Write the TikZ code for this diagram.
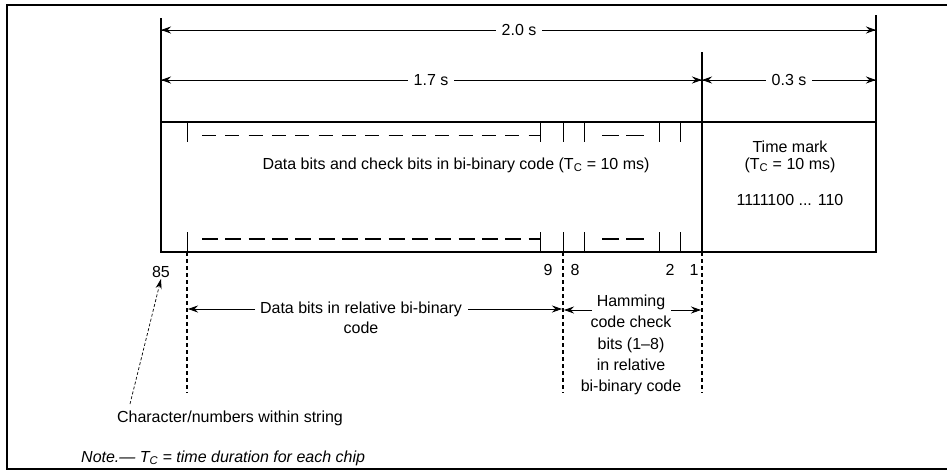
\documentclass[tikz,border=0pt]{standalone}
\usepackage{fontspec}
\setmainfont{Liberation Sans}
\usetikzlibrary{arrows.meta}
\begin{document}
\begin{tikzpicture}[x=1pt,y=-1pt,
  every node/.style={font=\fontsize{16}{20}\selectfont, inner sep=1pt},
  ln/.style={line width=1.1pt},
  dim/.style={line width=0.8pt,-{Stealth[length=10pt,width=7pt]}},
  lbl/.style={fill=white, inner xsep=6pt},
  tick/.style={line width=1pt},
  dashtop/.style={line width=1pt, dash pattern=on 14pt off 9.33pt},
  dashbot/.style={line width=2pt, dash pattern=on 16pt off 7.33pt},
  dotv/.style={line width=1.6pt, dash pattern=on 4pt off 3pt},
  ptr/.style={line width=0.7pt, dash pattern=on 3pt off 2pt, -{Stealth[length=10pt,width=6pt]}}
]
\useasboundingbox (0,0) rectangle (947,471);
% outer frame
\draw[line width=1.2pt] (947,5) -- (7,5) -- (7,469) -- (947,469);
% coordinates
\coordinate (L0) at (161,18);
\coordinate (Lb) at (161,252);
\coordinate (R0) at (876,15);
\coordinate (Rb) at (876,252);
\coordinate (M0) at (702,52);
\coordinate (Mb) at (702,252);
\coordinate (A1) at (161,30);
\coordinate (A2) at (876,30);
\coordinate (B1) at (161,80);
\coordinate (B2) at (702,80);
\coordinate (B3) at (876,80);
% main lines
\draw[ln] (L0) -- (Lb) -- (Rb) -- (R0);
\draw[ln] (M0) -- (Mb);
\draw[ln] (161,122) -- (876,122);
% dimension arrows
\draw[dim] (A2) -- (A1);
\draw[dim] (A1) -- (A2);
\node[lbl] (t20) at (519,30) {2.0 s};
\draw[dim] (B2) -- (B1);
\draw[dim] (B1) -- (B2);
\node[lbl] (t17) at (431,80) {1.7 s};
\draw[dim] (B3) -- (B2);
\draw[dim] (B2) -- (B3);
\node[lbl] (t03) at (789,80) {0.3 s};
% top ticks
\foreach \x in {187,540,563,584,659,680} \draw[tick] (\x,122) -- (\x,142);
\draw[dashtop] (202,135) -- (540,135);
\draw[line width=1pt] (602,135) -- (619,135) (626,135) -- (644,135);
% bottom ticks
\foreach \x in {187,540,563,584,659,680} \draw[tick] (\x,232) -- (\x,252);
\draw[dashbot] (202,239) -- (540,239);
\draw[line width=2pt] (602,239) -- (619,239) (626,239) -- (644,239);
% texts in box
\node (main) at (456,165) {Data bits and check bits in bi-binary code (T\textsubscript{C} = 10 ms)};
\node (tm1) at (790,147) {Time mark};
\node (tm2) at (790,165) {(T\textsubscript{C} = 10 ms)};
\node (tm3) at (790,200) {1111100 ... 110};
% dotted verticals
\coordinate (D1t) at (187,252); \coordinate (D1b) at (187,393);
\coordinate (D2t) at (563,252); \coordinate (D2b) at (563,393);
\coordinate (D3t) at (702,252); \coordinate (D3b) at (702,393);
\draw[dotv] (D1t) -- (D1b);
\draw[dotv] (D2t) -- (D2b);
\draw[dotv] (D3t) -- (D3b);
% numbers
\node (n85) at (161,272) {85};
\node (n9) at (548,270) {9};
\node (n8) at (575,270) {8};
\node (n2) at (670,270) {2};
\node (n1) at (694,270) {1};
% data bits label
\node[align=center] (db) at (361,318) {Data bits in relative bi-binary\\code};
\coordinate (db1) at (188,309);
\coordinate (db2) at (562,309);
\draw[dim] (255,309) -- (db1);
\draw[dim] (468,309) -- (db2);
% hamming label
\node[align=center, font=\fontsize{16}{21.3}\selectfont] (hm) at (631,345) {Hamming\\code check\\bits (1--8)\\in relative\\bi-binary code};
\coordinate (h1) at (564,310);
\coordinate (h2) at (701,310);
\draw[dim] (592,310) -- (h1);
\draw[dim] (671,310) -- (h2);
% pointer
\node (chr) at (230,418) {Character/numbers within string};
\draw[ptr] (130,404) -- (n85.south);
% note
\node[anchor=west, font=\itshape\fontsize{16}{20}\selectfont] (note) at (80,458) {Note.— T\textsubscript{C} = time duration for each chip};
\end{tikzpicture}
\end{document}
